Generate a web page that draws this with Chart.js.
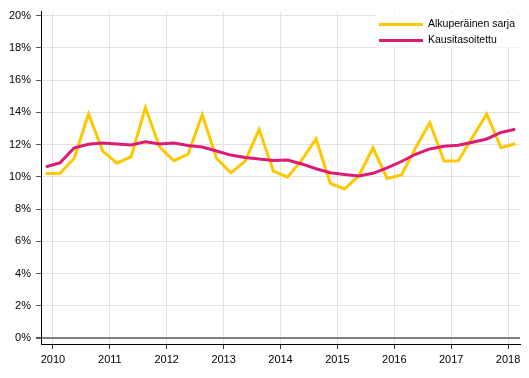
<!DOCTYPE html>
<html>
<head>
<meta charset="utf-8">
<script src="https://cdn.jsdelivr.net/npm/chart.js@4/dist/chart.umd.min.js"></script>
<style>
  html, body { margin: 0; padding: 0; background: #fff; }
  #wrap { width: 529px; height: 378px; position: relative; }
</style>
</head>
<body>
<div id="wrap"><canvas id="chart"></canvas></div>
<script>
// quarterly data, 2009Q4 .. 2018Q1
var quarters = ['2009Q4',
  '2010Q1', '2010Q2', '2010Q3', '2010Q4',
  '2011Q1', '2011Q2', '2011Q3', '2011Q4',
  '2012Q1', '2012Q2', '2012Q3', '2012Q4',
  '2013Q1', '2013Q2', '2013Q3', '2013Q4',
  '2014Q1', '2014Q2', '2014Q3', '2014Q4',
  '2015Q1', '2015Q2', '2015Q3', '2015Q4',
  '2016Q1', '2016Q2', '2016Q3', '2016Q4',
  '2017Q1', '2017Q2', '2017Q3', '2017Q4',
  '2018Q1'];

var alkuperainen = [10.2,
  10.22, 11.15, 13.9, 11.6,
  10.85, 11.25, 14.3, 11.85,
  11.0, 11.4, 13.85, 11.15,
  10.25, 10.95, 12.95, 10.35,
  9.98, 11.05, 12.35, 9.6,
  9.25, 10.05, 11.8, 9.9,
  10.12, 11.8, 13.35, 10.98,
  11.0, 12.45, 13.9, 11.8,
  12.05];

var kausitasoitettu = [10.62,
  10.87, 11.8, 12.02, 12.1,
  12.04, 11.98, 12.17, 12.04,
  12.1, 11.95, 11.85, 11.6,
  11.35, 11.2, 11.1, 11.02,
  11.04, 10.8, 10.5, 10.25,
  10.15, 10.05, 10.22, 10.55,
  10.95, 11.4, 11.73, 11.9,
  11.96, 12.15, 12.35, 12.75,
  12.95];

var seriesNames = ['Alkuperäinen sarja', 'Kausitasoitettu'];
var seriesColors = ['#ffc700', '#dc1c74'];
var yearTicks = [2010, 2011, 2012, 2013, 2014, 2015, 2016, 2017, 2018];
var percentTicks = [0, 2, 4, 6, 8, 10, 12, 14, 16, 18, 20];

// quarter -> position on a year axis (middle of the quarter)
function quarterPos(q) {
  var y = parseInt(q.substr(0, 4), 10);
  var n = parseInt(q.substr(5), 10);
  return y + (n - 0.5) / 4;
}

function points(values) {
  return values.map(function(v, i) {
    return { x: quarterPos(quarters[i]), y: v };
  });
}

var font = { family: '"Liberation Sans", Arial, sans-serif', size: 11 };

// legend box drawn in the top right corner of the plot area
var cornerLegend = {
  id: 'cornerLegend',
  afterDatasetsDraw: function(chart) {
    var ctx = chart.ctx;
    var area = chart.chartArea;
    var w = 143, h = 34;
    var x0 = area.right - w - 1, y0 = area.top + 2;
    ctx.save();
    ctx.fillStyle = '#ffffff';
    ctx.fillRect(x0, y0, w, h);
    ctx.font = '10.5px "Liberation Sans", Arial, sans-serif';
    ctx.textBaseline = 'middle';
    ctx.lineWidth = 3;
    for (var i = 0; i < seriesNames.length; i++) {
      var yy = y0 + 11 + i * 16;
      ctx.strokeStyle = seriesColors[i];
      ctx.beginPath();
      ctx.moveTo(x0 + 3, yy);
      ctx.lineTo(x0 + 47, yy);
      ctx.stroke();
      ctx.fillStyle = '#000';
      ctx.fillText(seriesNames[i], x0 + 52, yy);
    }
    ctx.restore();
  }
};

new Chart(document.getElementById('chart'), {
  type: 'line',
  data: {
    datasets: [{
      label: seriesNames[0],
      data: points(alkuperainen),
      borderColor: seriesColors[0],
      borderWidth: 3,
      pointRadius: 0,
      tension: 0,
      order: 2
    }, {
      label: seriesNames[1],
      data: points(kausitasoitettu),
      borderColor: seriesColors[1],
      borderWidth: 3,
      pointRadius: 0,
      tension: 0,
      order: 1
    }]
  },
  options: {
    responsive: true,
    maintainAspectRatio: false,
    animation: false,
    layout: { padding: { top: 11, right: 9, left: 0, bottom: 0 } },
    plugins: {
      legend: { display: false },
      tooltip: { enabled: false }
    },
    scales: {
      x: {
        type: 'linear',
        min: 2009.79,
        max: 2018.21,
        afterBuildTicks: function(scale) {
          scale.ticks = yearTicks.map(function(v) { return { value: v }; });
        },
        afterFit: function(scale) { scale.height = 34; },
        grid: {
          color: '#e2e2e2',
          lineWidth: 1,
          tickLength: 5,
          tickColor: '#333'
        },
        border: { display: true, color: '#000', width: 1 },
        ticks: {
          font: font,
          color: '#000',
          padding: 4,
          maxRotation: 0,
          callback: function(v) { return String(v); }
        }
      },
      y: {
        min: -0.37,
        max: 20.25,
        afterBuildTicks: function(scale) {
          scale.ticks = percentTicks.map(function(v) { return { value: v }; });
        },
        afterFit: function(scale) { scale.width = 41; },
        grid: {
          color: function(c) { return c.tick && c.tick.value === 0 ? '#808080' : '#e2e2e2'; },
          lineWidth: function(c) { return c.tick && c.tick.value === 0 ? 2 : 1; },
          tickLength: 5,
          tickColor: '#555'
        },
        border: { display: true, color: '#000', width: 1 },
        ticks: {
          font: font,
          color: '#000',
          padding: 5,
          callback: function(v) { return v + '%'; }
        }
      }
    }
  },
  plugins: [cornerLegend]
});
</script>
</body>
</html>
